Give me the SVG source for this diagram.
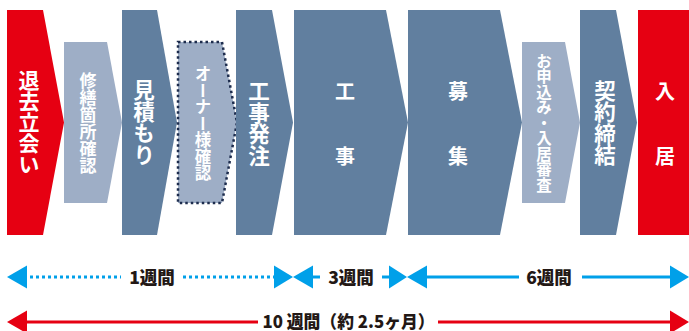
<svg xmlns="http://www.w3.org/2000/svg" width="689" height="331" viewBox="0 0 689 331">
<style>
.red{fill:#e60012}
.dark{fill:#617f9f}
.light{fill:#9eaec6}
.dot{stroke:#1d2c4d;stroke-width:2.5;stroke-dasharray:2.5 3;fill:#9eaec6}
.vt{font-family:"Noto Sans CJK JP","Noto Sans",sans-serif;font-weight:bold;fill:#fff;writing-mode:vertical-rl;text-anchor:middle}
.ht{font-family:"Noto Sans CJK JP","Noto Sans",sans-serif;font-weight:bold;fill:#fff;text-anchor:middle;font-size:20px}
.lbl{font-family:"Noto Sans CJK JP","Noto Sans",sans-serif;font-weight:900;fill:#231815;text-anchor:middle;font-size:17.5px}
.bl{stroke:#00a0e9;stroke-width:3;fill:none}
.bld{stroke:#00a0e9;stroke-width:3;fill:none;stroke-dasharray:3 3}
.bh{fill:#00a0e9}
.rl{stroke:#e60012;stroke-width:3;fill:none}
.rh{fill:#e60012}
</style>
<rect width="689" height="331" fill="#fff"/>
<g id="n1"><polygon class="red" points="7,10 43,10 64,122.5 43,235 7,235"/><text class="vt" x="29" y="122.5" font-size="21">退去立会い</text></g>
<g id="n2"><polygon class="light" points="64,42 107,42 122,122.5 107,203 64,203"/><text class="vt" x="88" y="123.5" font-size="17">修繕箇所確認</text></g>
<g id="n3"><polygon class="dark" points="122,10 157,10 177,122.5 157,235 122,235"/><text class="vt" x="144" y="122.5" font-size="21.5">見積もり</text></g>
<g id="n4"><polygon class="dot" points="178,42 222,42 237,122.5 222,203 178,203"/><text class="vt" x="203" y="123.5" font-size="16.5">オーナー様確認</text></g>
<g id="n5"><polygon class="dark" points="236,10 272,10 293,122.5 272,235 236,235"/><text class="vt" x="259" y="123.5" font-size="21.5">工事発注</text></g>
<g id="n6"><polygon class="dark" points="294,10 386,10 408,122.5 386,235 294,235"/><text class="ht" x="345" y="99">工</text><text class="ht" x="345" y="164">事</text></g>
<g id="n7"><polygon class="dark" points="408,10 500,10 522,122.5 500,235 408,235"/><text class="ht" x="458" y="99">募</text><text class="ht" x="458" y="164">集</text></g>
<g id="n8"><polygon class="light" points="522,42 565,42 580,122.5 565,203 522,203"/><text class="vt" x="544" y="123" font-size="15.5">お申込み・入居審査</text></g>
<g id="n9"><polygon class="dark" points="580,10 616,10 637,122.5 616,235 580,235"/><text class="vt" x="605" y="123" font-size="21.5">契約締結</text></g>
<g id="n10"><rect class="red" x="638" y="10" width="51" height="225"/><text class="ht" x="665" y="99">入</text><text class="ht" x="665" y="164">居</text></g>
<g id="connectors">
<polygon class="bh" points="7,277 27,265.5 27,288.5"/>
<line class="bld" x1="30" y1="277" x2="121" y2="277"/>
<text class="lbl" x="152" y="283.5">1週間</text>
<line class="bld" x1="183" y1="277" x2="274" y2="277"/>
<polygon class="bh" points="293,277 274,265.5 274,288.5"/>
<polygon class="bh" points="293,277 313,265.5 313,288.5"/>
<line class="bl" x1="312" y1="277" x2="320" y2="277"/>
<text class="lbl" x="351" y="283.5">3週間</text>
<line class="bl" x1="382" y1="277" x2="390" y2="277"/>
<polygon class="bh" points="407,277 389,265.5 389,288.5"/>
<polygon class="bh" points="407,277 427,265.5 427,288.5"/>
<line class="bl" x1="426" y1="277" x2="519" y2="277"/>
<text class="lbl" x="549" y="283.5">6週間</text>
<line class="bl" x1="582" y1="277" x2="671" y2="277"/>
<polygon class="bh" points="689,277 670,265.5 670,288.5"/>
<polygon class="rh" points="7,322 27,310.5 27,333.5"/>
<line class="rl" x1="26" y1="322" x2="258" y2="322"/>
<text class="lbl" x="348.5" y="327.5" textLength="172" lengthAdjust="spacingAndGlyphs">10 週間（約 2.5ヶ月）</text>
<line class="rl" x1="438" y1="322" x2="671" y2="322"/>
<polygon class="rh" points="689,322 670,310.5 670,333.5"/>
</g>
</svg>
